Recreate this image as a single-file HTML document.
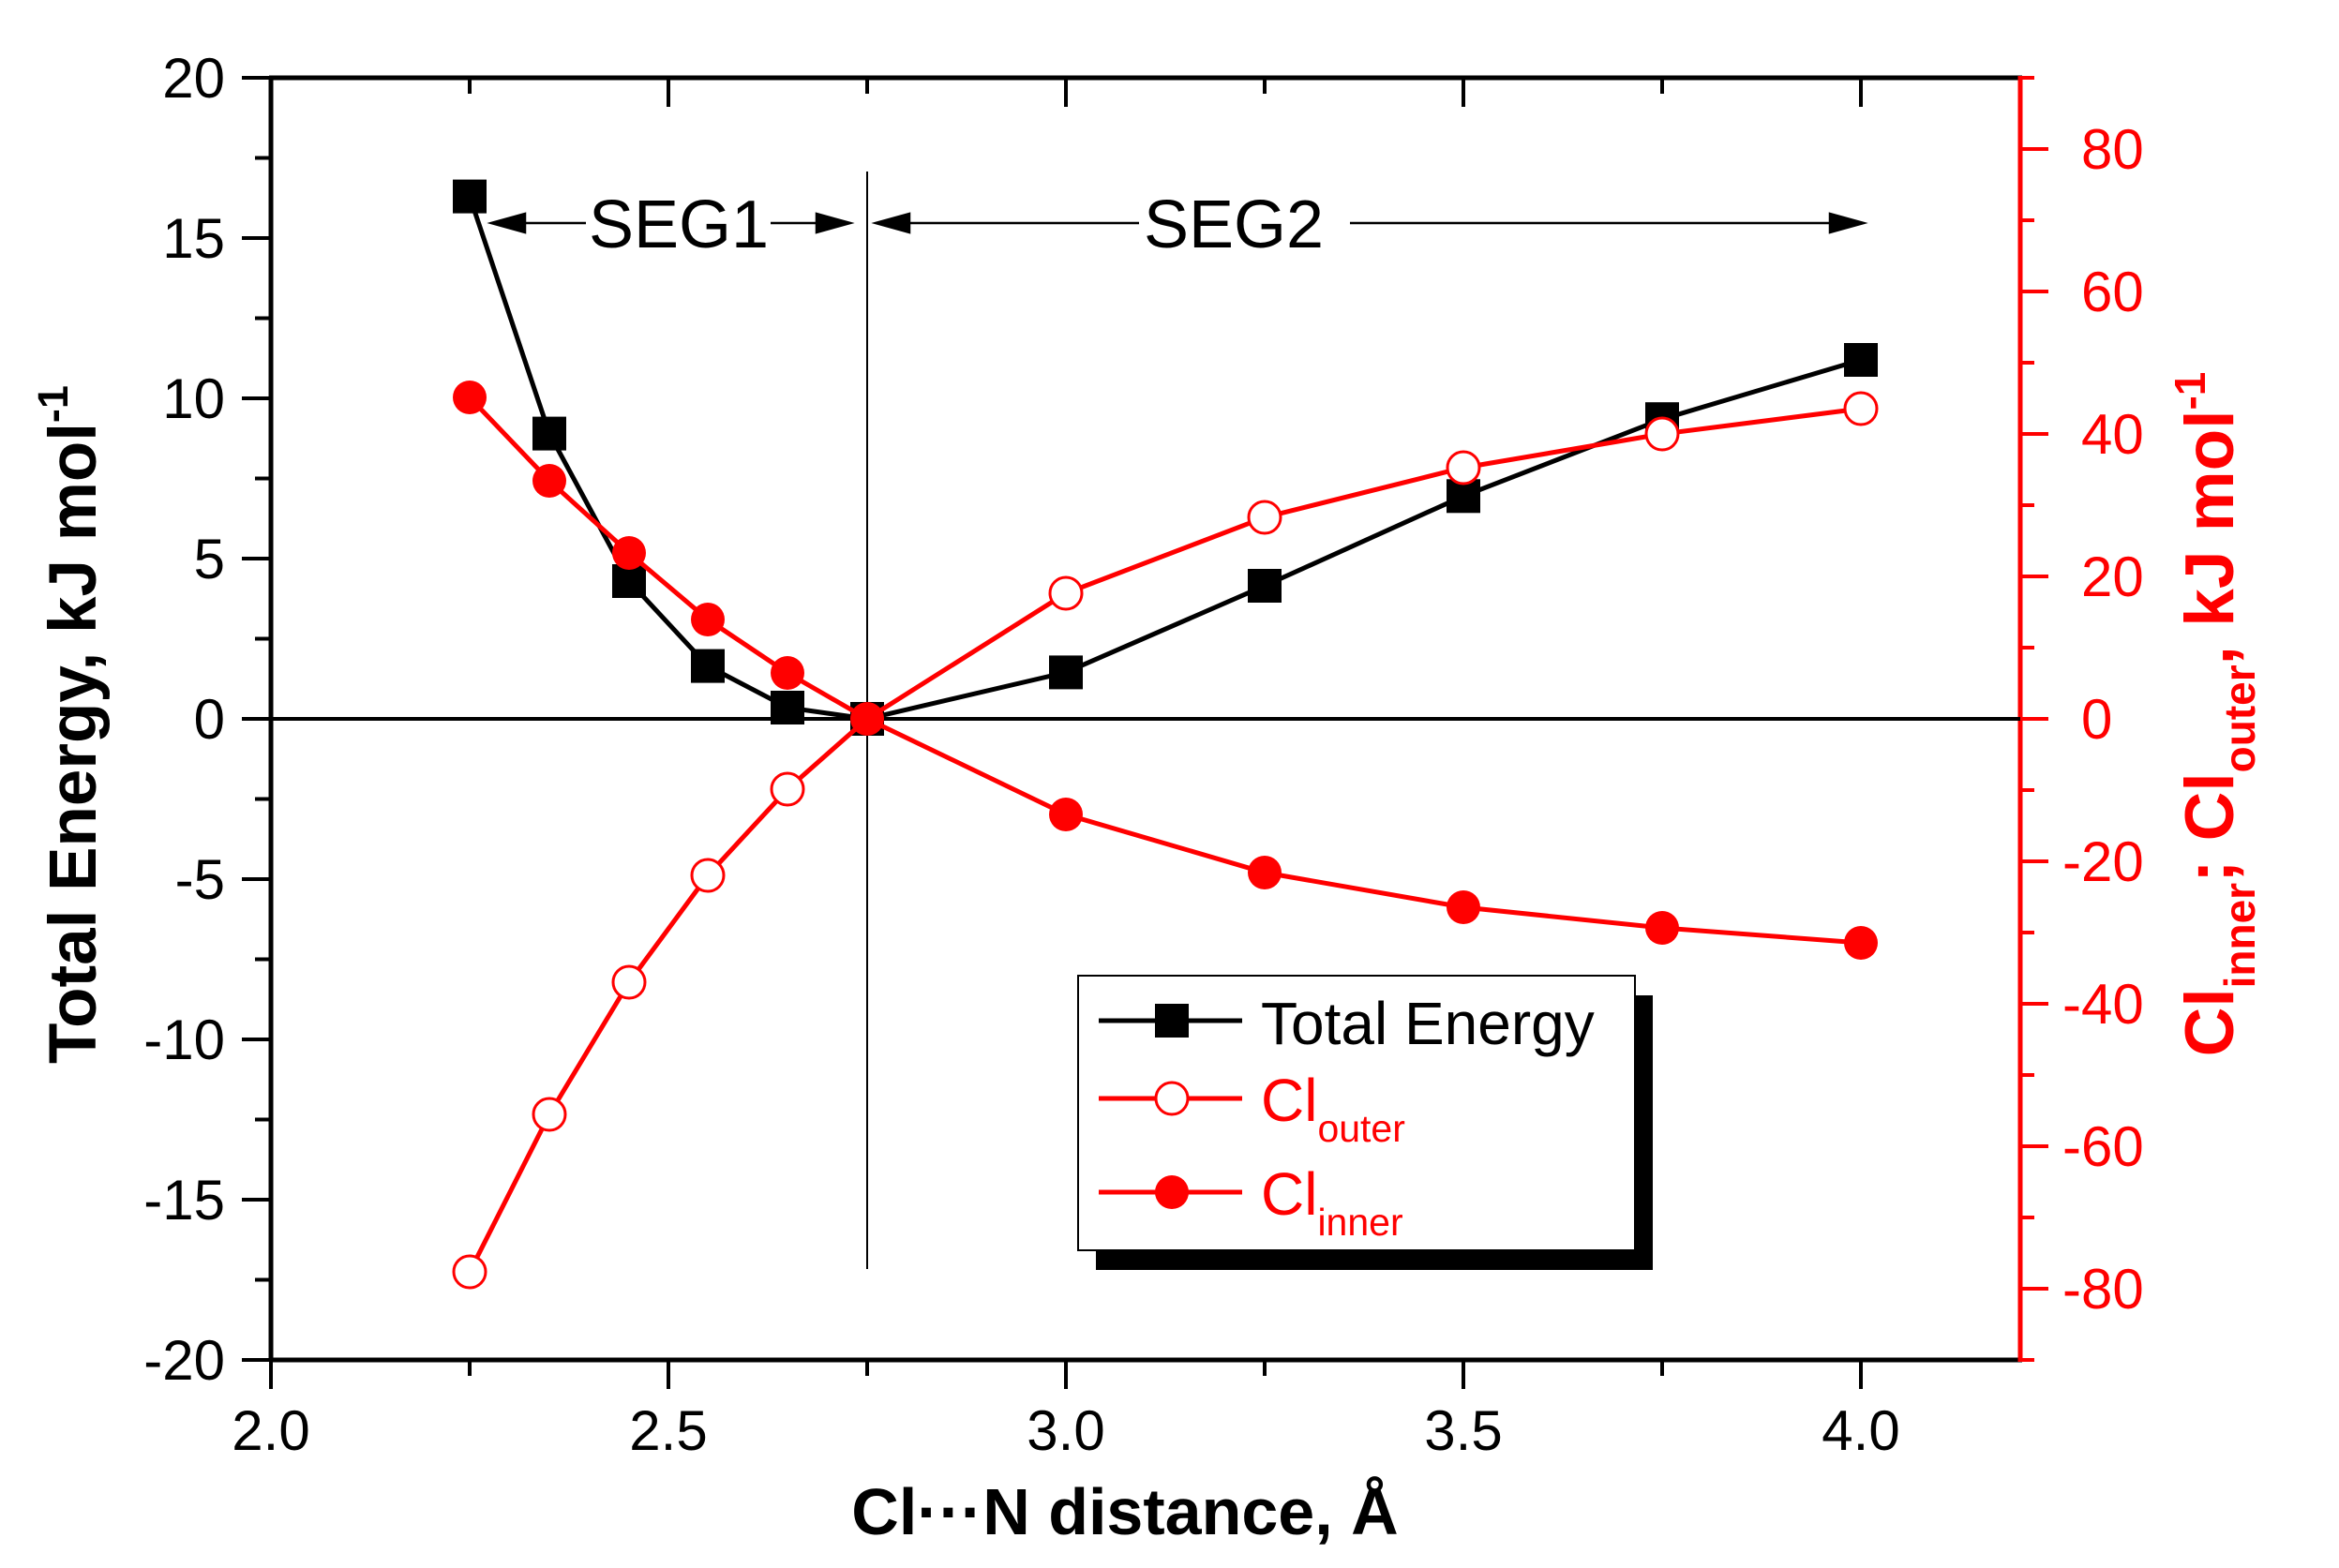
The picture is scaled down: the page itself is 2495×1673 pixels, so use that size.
<!DOCTYPE html>
<html><head><meta charset="utf-8"><style>html,body{margin:0;padding:0;background:#fff}svg{display:block}</style></head>
<body>
<svg width="2495" height="1673" viewBox="0 0 2495 1673" xmlns="http://www.w3.org/2000/svg" font-family="Liberation Sans, Arial, sans-serif">
<rect width="2495" height="1673" fill="#fff"/>
<g stroke="#000" stroke-width="5" fill="none">
<line x1="287" y1="83" x2="2157" y2="83"/>
<line x1="287" y1="1451" x2="2157" y2="1451"/>
<line x1="289" y1="81" x2="289" y2="1453"/>
</g>
<line x1="2155" y1="81" x2="2155" y2="1453" stroke="#f00" stroke-width="5"/>
<g stroke="#000" stroke-width="4">
<line x1="258" y1="83" x2="289" y2="83"/><line x1="272" y1="168.5" x2="289" y2="168.5"/>
<line x1="258" y1="254" x2="289" y2="254"/><line x1="272" y1="339.5" x2="289" y2="339.5"/>
<line x1="258" y1="425" x2="289" y2="425"/><line x1="272" y1="510.5" x2="289" y2="510.5"/>
<line x1="258" y1="596" x2="289" y2="596"/><line x1="272" y1="681.5" x2="289" y2="681.5"/>
<line x1="258" y1="767" x2="289" y2="767"/><line x1="272" y1="852.5" x2="289" y2="852.5"/>
<line x1="258" y1="938" x2="289" y2="938"/><line x1="272" y1="1023.5" x2="289" y2="1023.5"/>
<line x1="258" y1="1109" x2="289" y2="1109"/><line x1="272" y1="1194.5" x2="289" y2="1194.5"/>
<line x1="258" y1="1280" x2="289" y2="1280"/><line x1="272" y1="1365.5" x2="289" y2="1365.5"/>
<line x1="258" y1="1451" x2="289" y2="1451"/>
<line x1="289" y1="1451" x2="289" y2="1482"/><line x1="501" y1="1451" x2="501" y2="1468"/>
<line x1="713" y1="1451" x2="713" y2="1482"/><line x1="925" y1="1451" x2="925" y2="1468"/>
<line x1="1137" y1="1451" x2="1137" y2="1482"/><line x1="1349" y1="1451" x2="1349" y2="1468"/>
<line x1="1561" y1="1451" x2="1561" y2="1482"/><line x1="1773" y1="1451" x2="1773" y2="1468"/>
<line x1="1985" y1="1451" x2="1985" y2="1482"/>
<line x1="501" y1="83" x2="501" y2="100"/><line x1="713" y1="83" x2="713" y2="114"/>
<line x1="925" y1="83" x2="925" y2="100"/><line x1="1137" y1="83" x2="1137" y2="114"/>
<line x1="1349" y1="83" x2="1349" y2="100"/><line x1="1561" y1="83" x2="1561" y2="114"/>
<line x1="1773" y1="83" x2="1773" y2="100"/><line x1="1985" y1="83" x2="1985" y2="114"/>
</g>
<g stroke="#f00" stroke-width="4">
<line x1="2155" y1="83" x2="2170" y2="83"/><line x1="2155" y1="159" x2="2185" y2="159"/>
<line x1="2155" y1="235" x2="2170" y2="235"/><line x1="2155" y1="311" x2="2185" y2="311"/>
<line x1="2155" y1="387" x2="2170" y2="387"/><line x1="2155" y1="463" x2="2185" y2="463"/>
<line x1="2155" y1="539" x2="2170" y2="539"/><line x1="2155" y1="615" x2="2185" y2="615"/>
<line x1="2155" y1="691" x2="2170" y2="691"/><line x1="2155" y1="767" x2="2185" y2="767"/>
<line x1="2155" y1="843" x2="2170" y2="843"/><line x1="2155" y1="919" x2="2185" y2="919"/>
<line x1="2155" y1="995" x2="2170" y2="995"/><line x1="2155" y1="1071" x2="2185" y2="1071"/>
<line x1="2155" y1="1147" x2="2170" y2="1147"/><line x1="2155" y1="1223" x2="2185" y2="1223"/>
<line x1="2155" y1="1299" x2="2170" y2="1299"/><line x1="2155" y1="1375" x2="2185" y2="1375"/>
<line x1="2155" y1="1451" x2="2170" y2="1451"/>
</g>
<g font-size="60" text-anchor="end" fill="#000">
<text x="240" y="104">20</text><text x="240" y="275">15</text><text x="240" y="446">10</text>
<text x="240" y="617">5</text><text x="240" y="788">0</text><text x="240" y="959">-5</text>
<text x="240" y="1130">-10</text><text x="240" y="1301">-15</text><text x="240" y="1472">-20</text>
</g>
<g font-size="60" text-anchor="middle" fill="#000">
<text x="289" y="1547">2.0</text><text x="713" y="1547">2.5</text><text x="1137" y="1547">3.0</text>
<text x="1561" y="1547">3.5</text><text x="1985" y="1547">4.0</text>
</g>
<g font-size="60" text-anchor="start" fill="#f00">
<text x="2220" y="180">80</text><text x="2220" y="332">60</text><text x="2220" y="484">40</text>
<text x="2220" y="636">20</text><text x="2220" y="788">0</text><text x="2200" y="940">-20</text>
<text x="2200" y="1092">-40</text><text x="2200" y="1244">-60</text><text x="2200" y="1396">-80</text>
</g>
<text x="1200" y="1637" font-size="70" font-weight="bold" text-anchor="middle">Cl···N distance, Å</text>
<text transform="translate(102,773) rotate(-90)" font-size="71" font-weight="bold" text-anchor="middle">Total Energy, kJ mol<tspan font-size="45" dy="-30">-1</tspan></text>
<text transform="translate(2382,762) rotate(-90)" font-size="73" font-weight="bold" text-anchor="middle" fill="#f00">Cl<tspan font-size="46" dy="23">inner</tspan><tspan dy="-23">; Cl</tspan><tspan font-size="46" dy="23">outer</tspan><tspan dy="-23">, kJ mol</tspan><tspan font-size="46" dy="-30">-1</tspan></text>
<line x1="289" y1="767" x2="2155" y2="767" stroke="#000" stroke-width="4"/>
<line x1="925" y1="183" x2="925" y2="1354" stroke="#000" stroke-width="2"/>
<g stroke="#000" stroke-width="2.5" fill="#000">
<line x1="540" y1="238" x2="625" y2="238"/><polygon points="524,238 560,228 560,248"/>
<line x1="822" y1="238" x2="890" y2="238"/><polygon points="907,238 871,228 871,248"/>
<line x1="950" y1="238" x2="1215" y2="238"/><polygon points="934,238 970,228 970,248"/>
<line x1="1440" y1="238" x2="1970" y2="238"/><polygon points="1988,238 1952,228 1952,248"/>
</g>
<text x="628" y="264" font-size="72">SEG1</text>
<text x="1220" y="264" font-size="72">SEG2</text>
<polyline fill="none" stroke="#000" stroke-width="5" points="501,209.6 586,462.6 671,620 755,710.6 840,755 925,767 1137,717.4 1349,625 1561,529.3 1773,447.2 1985,384"/>
<g fill="#000">
<rect x="483" y="191.6" width="36" height="36"/><rect x="568" y="444.6" width="36" height="36"/>
<rect x="653" y="602" width="36" height="36"/><rect x="737" y="692.6" width="36" height="36"/>
<rect x="822" y="737" width="36" height="36"/><rect x="907" y="749" width="36" height="36"/>
<rect x="1119" y="699.4" width="36" height="36"/><rect x="1331" y="607" width="36" height="36"/>
<rect x="1543" y="511.3" width="36" height="36"/><rect x="1755" y="429.2" width="36" height="36"/>
<rect x="1967" y="366" width="36" height="36"/>
</g>
<polyline fill="none" stroke="#f00" stroke-width="5" points="501,1357 586,1189 671,1048 755,934 840,842 925,767 1137,633 1349,552 1561,499 1773,463 1985,436"/>
<g fill="#fff" stroke="#f00" stroke-width="3">
<circle cx="501" cy="1357" r="17"/><circle cx="586" cy="1189" r="17"/><circle cx="671" cy="1048" r="17"/>
<circle cx="755" cy="934" r="17"/><circle cx="840" cy="842" r="17"/>
<circle cx="1137" cy="633" r="17"/><circle cx="1349" cy="552" r="17"/><circle cx="1561" cy="499" r="17"/>
<circle cx="1773" cy="463" r="17"/><circle cx="1985" cy="436" r="17"/>
</g>
<polyline fill="none" stroke="#f00" stroke-width="5" points="501,424 586,513 671,590 755,661 840,718 925,767 1137,869 1349,931 1561,968 1773,990 1985,1006"/>
<g fill="#f00">
<circle cx="501" cy="424" r="18"/><circle cx="586" cy="513" r="18"/><circle cx="671" cy="590" r="18"/>
<circle cx="755" cy="661" r="18"/><circle cx="840" cy="718" r="18"/><circle cx="925" cy="767" r="18"/>
<circle cx="1137" cy="869" r="18"/><circle cx="1349" cy="931" r="18"/><circle cx="1561" cy="968" r="18"/>
<circle cx="1773" cy="990" r="18"/><circle cx="1985" cy="1006" r="18"/>
</g>
<rect x="1169" y="1062" width="594" height="293" fill="#000"/>
<rect x="1150" y="1041" width="594" height="293" fill="#fff" stroke="#000" stroke-width="2"/>
<line x1="1172" y1="1089" x2="1325" y2="1089" stroke="#000" stroke-width="5"/>
<rect x="1232" y="1071" width="36" height="36" fill="#000"/>
<line x1="1172" y1="1172" x2="1325" y2="1172" stroke="#f00" stroke-width="5"/>
<circle cx="1250" cy="1172" r="17" fill="#fff" stroke="#f00" stroke-width="3"/>
<line x1="1172" y1="1272" x2="1325" y2="1272" stroke="#f00" stroke-width="5"/>
<circle cx="1250" cy="1272" r="18" fill="#f00"/>
<text x="1345" y="1114" font-size="64" fill="#000">Total Energy</text>
<text x="1345" y="1196" font-size="64" fill="#f00">Cl<tspan font-size="41" dy="22">outer</tspan></text>
<text x="1345" y="1296" font-size="64" fill="#f00">Cl<tspan font-size="41" dy="22">inner</tspan></text>
</svg>
</body></html>
